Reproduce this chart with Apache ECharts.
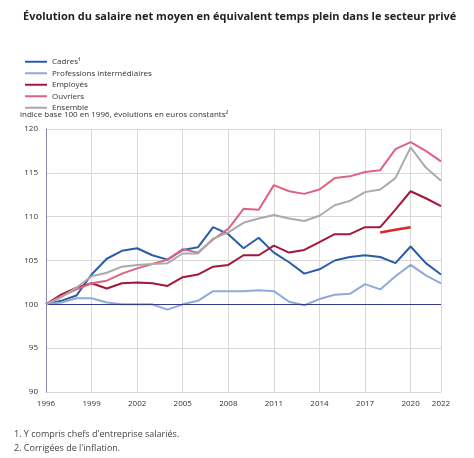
<!DOCTYPE html>
<html><head><meta charset="utf-8">
<script src="https://cdn.jsdelivr.net/npm/echarts@6/dist/echarts.min.js"></script>
<style>html,body{margin:0;padding:0;background:#fff}#c{width:474px;height:458px}</style>
</head><body><div id="c"></div>
<script>
const years = [];
for (let y = 1996; y <= 2022; y++) years.push(String(y));
const shownLabels = ['1996','1999','2002','2005','2008','2011','2014','2017','2020','2022'];
const cadres = [100,100.4,101,103.4,105.2,106.1,106.4,105.6,105.1,106.2,106.5,108.8,108.0,106.4,107.6,105.9,104.8,103.5,104.0,105.0,105.4,105.6,105.4,104.7,106.6,104.7,103.4];
const profInter = [100,100.2,100.7,100.7,100.2,100,100,100,99.4,100,100.4,101.5,101.5,101.5,101.6,101.5,100.3,99.9,100.6,101.1,101.2,102.3,101.7,103.2,104.5,103.3,102.4];
const employes = [100,101.1,101.9,102.4,101.8,102.4,102.5,102.4,102.1,103.1,103.4,104.3,104.5,105.6,105.6,106.7,105.9,106.2,107.1,108.0,108.0,108.8,108.8,110.8,112.9,112.1,111.2];
const ouvriers = [100,100.9,101.7,102.4,102.7,103.5,104.1,104.6,105.1,106.3,105.9,107.4,108.6,110.9,110.8,113.6,112.9,112.6,113.1,114.4,114.6,115.1,115.3,117.7,118.5,117.5,116.3];
const ensemble = [100,100.8,101.9,103.2,103.6,104.3,104.5,104.6,104.7,105.8,105.8,107.5,108.2,109.3,109.8,110.2,109.8,109.5,110.1,111.3,111.8,112.8,113.1,114.4,117.9,115.6,114.1];
const employesRecent = [null,null,null,null,null,null,null,null,null,null,null,null,null,null,null,null,null,null,null,null,null,null,108.2,108.5,108.8,null,null];
const names = ['Cadres¹','Professions intermédiaires','Employés','Ouvriers','Ensemble'];
const colors = ['#2a5caa','#8eaadb','#a3183a','#e06282','#aaaaaa'];
const dataSets = [cadres, profInter, employes, ouvriers, ensemble];

const chart = echarts.init(document.getElementById('c'));
const series = dataSets.map((d,i)=>({name:names[i],type:'line',data:d,symbol:'none',
  lineStyle:{width:2,color:colors[i]},itemStyle:{color:colors[i]},z:3+i}));
series.push({name:'_recent',type:'line',data:employesRecent,symbol:'none',lineStyle:{width:2.5,color:'#e02424'},z:10});
series[0].markLine = {silent:true,symbol:'none',label:{show:false},lineStyle:{color:'#3a3a8c',width:1,type:'solid'},data:[{yAxis:100}]};
chart.setOption({
  animation:false,
  textStyle:{fontFamily:'Open Sans'},
  title:{text:'Évolution du salaire net moyen en équivalent temps plein dans le secteur privé',left:18,top:6,
    textStyle:{fontSize:11,fontWeight:'bold',color:'#222',fontFamily:'Open Sans'}},
  legend:{data:names,orient:'vertical',left:20,top:52,itemWidth:22,itemHeight:2,itemGap:2,icon:'rect',
    textStyle:{fontSize:8,lineHeight:9.5,color:'#333'}},
  graphic:[
    {type:'text',left:20,top:111,style:{text:'indice base 100 en 1996, évolutions en euros constants²',fontSize:8,fill:'#333',fontFamily:'Open Sans'}},
    {type:'text',left:14,top:430,style:{text:'1. Y compris chefs d\'entreprise salariés.',fontSize:9,fill:'#444',fontFamily:'Open Sans'}},
    {type:'text',left:14,top:444,style:{text:'2. Corrigées de l\'inflation.',fontSize:9,fill:'#444',fontFamily:'Open Sans'}}
  ],
  grid:{left:46,right:33,top:129,bottom:66},
  xAxis:{type:'category',data:years,boundaryGap:false,
    axisLine:{show:false},axisTick:{show:false},
    axisLabel:{fontSize:8,color:'#333',interval:(i,v)=>shownLabels.includes(v)},
    splitLine:{show:true,interval:(i,v)=>shownLabels.includes(v),lineStyle:{color:'#d8d8d8'}}},
  yAxis:{type:'value',min:90,max:120,interval:5,
    axisLine:{show:true,lineStyle:{color:'#8a8aa8'}},axisTick:{show:false},
    axisLabel:{fontSize:8,color:'#333'},splitLine:{lineStyle:{color:'#d8d8d8'}}},
  series
});
</script></body></html>
